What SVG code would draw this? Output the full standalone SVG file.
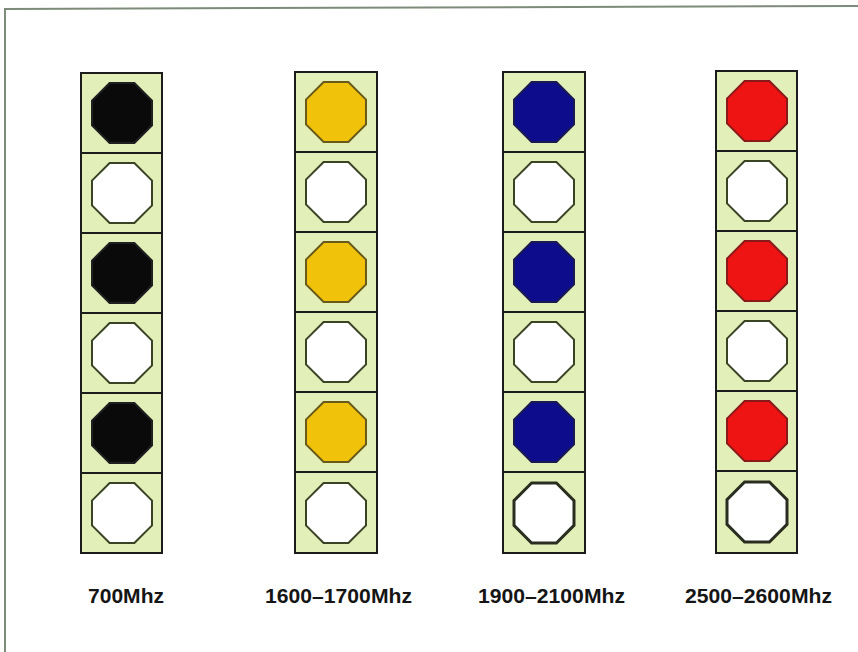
<svg xmlns="http://www.w3.org/2000/svg" width="858" height="652" viewBox="0 0 858 652">
<style>
.cell{fill:#e3efb9;stroke:#1c1c1c;stroke-width:2}
.oct{stroke-width:2}
.k{fill:#0a0a0a;stroke:#202020}
.y{fill:#f1c20a;stroke:#6a5a1a}
.b{fill:#0c0c8c;stroke:#1a1a50}
.r{fill:#ee1414;stroke:#8a1a1a}
.w{fill:#ffffff;stroke:#3a4424}
.lbl{font-family:"Liberation Sans",Arial,sans-serif;font-weight:bold;font-size:21px;fill:#151515;text-anchor:middle}
</style>
<defs>
<polygon id="o" points="-12.4,-30 12.4,-30 30,-12.4 30,12.4 12.4,30 -12.4,30 -30,12.4 -30,-12.4"/>
</defs>
<rect width="858" height="652" fill="#ffffff"/>
<g id="frame" fill="none" stroke="#7d8c7a" stroke-width="2">
<path d="M5,652 L5,9 L858,6"/>
</g>
<g id="col-700">
<rect class="cell" x="81" y="73" width="81" height="80"/>
<rect class="cell" x="81" y="153" width="81" height="80"/>
<rect class="cell" x="81" y="233" width="81" height="80"/>
<rect class="cell" x="81" y="313" width="81" height="80"/>
<rect class="cell" x="81" y="393" width="81" height="80"/>
<rect class="cell" x="81" y="473" width="81" height="80"/>
<use href="#o" class="oct k" x="122" y="113"/>
<use href="#o" class="oct w" x="122" y="193"/>
<use href="#o" class="oct k" x="122" y="273"/>
<use href="#o" class="oct w" x="122" y="353"/>
<use href="#o" class="oct k" x="122" y="433"/>
<use href="#o" class="oct w" x="122" y="513"/>
<text class="lbl" x="126" y="603" textLength="76" lengthAdjust="spacingAndGlyphs">700Mhz</text>
</g>
<g id="col-1600">
<rect class="cell" x="295" y="72" width="82" height="80"/>
<rect class="cell" x="295" y="152" width="82" height="80"/>
<rect class="cell" x="295" y="232" width="82" height="80"/>
<rect class="cell" x="295" y="312" width="82" height="80"/>
<rect class="cell" x="295" y="392" width="82" height="80"/>
<rect class="cell" x="295" y="472" width="82" height="81"/>
<use href="#o" class="oct y" x="336" y="112"/>
<use href="#o" class="oct w" x="336" y="192"/>
<use href="#o" class="oct y" x="336" y="272"/>
<use href="#o" class="oct w" x="336" y="352"/>
<use href="#o" class="oct y" x="336" y="432"/>
<use href="#o" class="oct w" x="336" y="513"/>
<text class="lbl" x="338.5" y="603" textLength="147" lengthAdjust="spacingAndGlyphs">1600–1700Mhz</text>
</g>
<g id="col-1900">
<rect class="cell" x="503" y="72" width="82" height="80"/>
<rect class="cell" x="503" y="152" width="82" height="80"/>
<rect class="cell" x="503" y="232" width="82" height="80"/>
<rect class="cell" x="503" y="312" width="82" height="80"/>
<rect class="cell" x="503" y="392" width="82" height="80"/>
<rect class="cell" x="503" y="472" width="82" height="81"/>
<use href="#o" class="oct b" x="544" y="112"/>
<use href="#o" class="oct w" x="544" y="192"/>
<use href="#o" class="oct b" x="544" y="272"/>
<use href="#o" class="oct w" x="544" y="352"/>
<use href="#o" class="oct b" x="544" y="432"/>
<use href="#o" class="oct w" x="544" y="513" style="stroke-width:3;stroke:#2a2e20"/>
<text class="lbl" x="551.5" y="603" textLength="147" lengthAdjust="spacingAndGlyphs">1900–2100Mhz</text>
</g>
<g id="col-2500">
<rect class="cell" x="716" y="71" width="81" height="80"/>
<rect class="cell" x="716" y="151" width="81" height="80"/>
<rect class="cell" x="716" y="231" width="81" height="80"/>
<rect class="cell" x="716" y="311" width="81" height="80"/>
<rect class="cell" x="716" y="391" width="81" height="80"/>
<rect class="cell" x="716" y="471" width="81" height="82"/>
<use href="#o" class="oct r" x="757" y="111"/>
<use href="#o" class="oct w" x="757" y="191"/>
<use href="#o" class="oct r" x="757" y="271"/>
<use href="#o" class="oct w" x="757" y="351"/>
<use href="#o" class="oct r" x="757" y="431"/>
<use href="#o" class="oct w" x="757" y="512" style="stroke-width:3;stroke:#2a2e20"/>
<text class="lbl" x="758.5" y="603" textLength="147" lengthAdjust="spacingAndGlyphs">2500–2600Mhz</text>
</g>
</svg>
